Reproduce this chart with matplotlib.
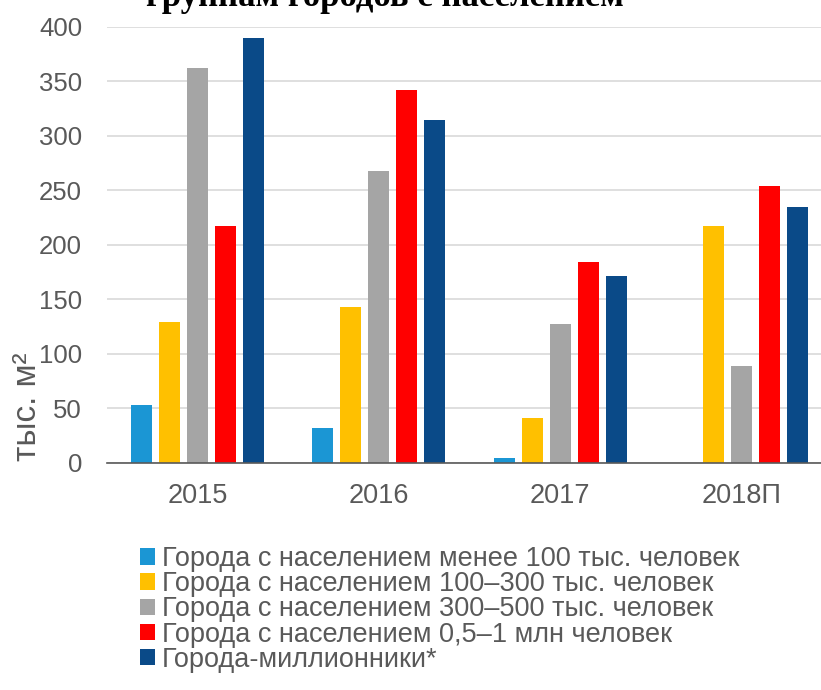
import numpy as np
import matplotlib
matplotlib.use("Agg")
import matplotlib.pyplot as plt
from matplotlib.patches import Patch

# ==============================
# Data (тыс. м²)
# ==============================
years = ["2015", "2016", "2017", "2018П"]
series_names = [
    "Города с населением менее 100 тыс. человек",
    "Города с населением 100–300 тыс. человек",
    "Города с населением 300–500 тыс. человек",
    "Города с населением 0,5–1 млн человек",
    "Города-миллионники*",
]
under_100k  = [53, 32, 4, 0]
k100_300    = [129, 143, 41, 217]
k300_500    = [362, 268, 127, 89]
m05_1       = [217, 342, 184, 254]
millionaire = [390, 315, 171, 235]

colors = ["#1b96d4", "#ffc000", "#a5a5a5", "#ff0000", "#0a4a88"]
TEXT_C = "#595959"

plt.rcParams["font.family"] = ["Liberation Sans", "DejaVu Sans"]

fig = plt.figure(figsize=(8.21, 6.90), dpi=100)
W, H = 821, 690
# axes box in pixels: left 107, right 832 (runs past the canvas), y0 at 462.5, y400 at 27
ax = fig.add_axes([107 / W, 1 - 462.5 / H, (832 - 107) / W, (462.5 - 27) / H])

x = np.arange(len(years))
slot = 0.1547
bar_w = 0.116
all_series = [under_100k, k100_300, k300_500, m05_1, millionaire]
for i, (vals, c, name) in enumerate(zip(all_series, colors, series_names)):
    ax.bar(x + (i - 2) * slot, vals, width=bar_w, color=c, label=name, zorder=3)

ax.set_xlim(-0.5, 3.5)
ax.set_ylim(0, 400)
ax.set_yticks(np.arange(0, 401, 50))
ax.set_xticks(x)
ax.set_xticklabels(years)
ax.grid(axis="y", color="#d9d9d9", linewidth=1.2, zorder=0)
for s in ["top", "right", "left"]:
    ax.spines[s].set_visible(False)
ax.spines["bottom"].set_color(TEXT_C)
ax.spines["bottom"].set_linewidth(1.2)
ax.spines["bottom"].set_zorder(4)
ax.tick_params(axis="y", length=0, pad=18, labelsize=18.5, labelcolor=TEXT_C)
ax.tick_params(axis="x", length=0, pad=15, labelsize=19.5, labelcolor=TEXT_C)

fig.text(27 / W, 1 - 407 / H, "тыс. м²", rotation=90, ha="center", va="center",
         fontsize=24, color=TEXT_C)

# heading, clipped by the top edge of the canvas
fig.text(385 / W, 1 - 6 / H, "группам городов с населением", ha="center",
         va="baseline", fontsize=25, fontweight="bold", family="Liberation Serif",
         color="black")

handles = [Patch(facecolor=c, edgecolor="none") for c in colors]
leg = fig.legend(handles, series_names, loc="upper left",
                 bbox_to_anchor=(140 / W, 1 - 546 / H), frameon=False,
                 fontsize=19.5, labelcolor=TEXT_C, handlelength=0.55,
                 handleheight=0.55, handletextpad=0.27, labelspacing=-0.03,
                 borderaxespad=0, borderpad=0)

fig.savefig("out.png", dpi=100)
